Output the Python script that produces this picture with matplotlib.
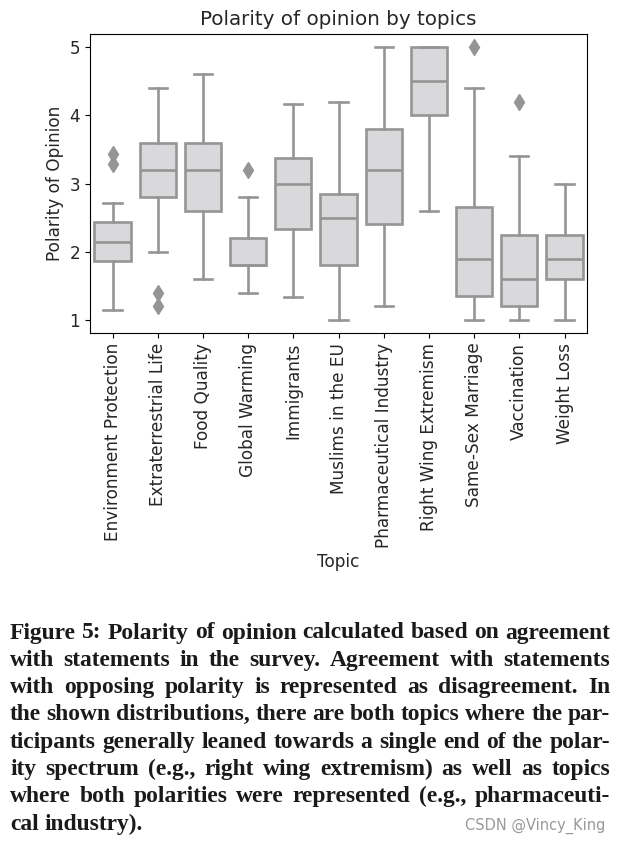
import numpy as np
import matplotlib
matplotlib.use("Agg")
import matplotlib.pyplot as plt

# topics and box statistics
topics = ["Environment Protection", "Extraterrestrial Life", "Food Quality",
          "Global Warming", "Immigrants", "Muslims in the EU",
          "Pharmaceutical Industry", "Right Wing Extremism",
          "Same-Sex Marriage", "Vaccination", "Weight Loss"]
whisker_low = [1.14, 2.0, 1.6, 1.4, 1.33, 1.0, 1.2, 2.6, 1.0, 1.0, 1.0]
q1 = [1.86, 2.8, 2.6, 1.8, 2.33, 1.8, 2.4, 4.0, 1.35, 1.2, 1.6]
medians = [2.14, 3.2, 3.2, 1.8, 3.0, 2.5, 3.2, 4.5, 1.9, 1.6, 1.9]
q3 = [2.43, 3.6, 3.6, 2.2, 3.38, 2.85, 3.8, 5.0, 2.65, 2.25, 2.25]
whisker_high = [2.71, 4.4, 4.6, 2.8, 4.17, 4.2, 5.0, 5.0, 4.4, 3.4, 3.0]
outliers = [[3.29, 3.43], [1.2, 1.4], [], [3.2], [], [], [], [], [5.0], [4.2], []]

caption_lines = [
    "Figure 5: Polarity of opinion calculated based on agreement",
    "with statements in the survey. Agreement with statements",
    "with opposing polarity is represented as disagreement. In",
    "the shown distributions, there are both topics where the par-",
    "ticipants generally leaned towards a single end of the polar-",
    "ity spectrum (e.g., right wing extremism) as well as topics",
    "where both polarities were represented (e.g., pharmaceuti-",
    "cal industry).",
]

line_col = "#959595"
fill_col = "#d9d9db"
text_col = "#262626"

fig = plt.figure(figsize=(6.2, 8.43), dpi=100)
ax = fig.add_axes([0.145, 0.605, 0.802, 0.355])

stats = []
for i in range(len(topics)):
    stats.append(dict(med=medians[i], q1=q1[i], q3=q3[i],
                      whislo=whisker_low[i], whishi=whisker_high[i],
                      fliers=outliers[i], label=topics[i]))

ax.bxp(stats, positions=range(len(topics)), widths=0.8, patch_artist=True,
       boxprops=dict(facecolor=fill_col, edgecolor=line_col, linewidth=1.9),
       medianprops=dict(color=line_col, linewidth=1.9),
       whiskerprops=dict(color=line_col, linewidth=1.9),
       capprops=dict(color=line_col, linewidth=1.9),
       capwidths=0.4,
       flierprops=dict(marker="d", markerfacecolor=line_col, markeredgecolor=line_col,
                       markersize=8))

ax.set_xlim(-0.5, len(topics) - 0.5)
ax.set_ylim(0.81, 5.195)
ax.set_yticks([1, 2, 3, 4, 5])
ax.set_xticks(range(len(topics)))
ax.set_xticklabels(topics, rotation=90, fontsize=12.2, color=text_col)
ax.tick_params(axis="y", labelsize=12.2, labelcolor=text_col)
ax.set_title("Polarity of opinion by topics", fontsize=14.3, color=text_col)
ax.set_xlabel("Topic", fontsize=12.2, color=text_col)
ax.set_ylabel("Polarity of Opinion", fontsize=12.2, color=text_col)

# justified caption below the chart
renderer = fig.canvas.get_renderer()
W, H = 620, 843
left_px, right_px = 10, 610
probe = fig.text(0, 0, caption_lines[0], fontsize=14, fontweight="bold",
                 family="Liberation Serif")
cap_size = 14 * (right_px - left_px) / probe.get_window_extent(renderer).width
probe.remove()

y_px = 633
for n, line in enumerate(caption_lines):
    words = line.split(" ")
    texts = [fig.text(0, 1 - y_px / H, w, fontsize=cap_size, fontweight="bold",
                      family="Liberation Serif", color="#1a1a1a", va="center")
             for w in words]
    widths = [t.get_window_extent(renderer).width for t in texts]
    last = n == len(caption_lines) - 1
    gap = cap_size * 0.35 if last else (right_px - left_px - sum(widths)) / (len(words) - 1)
    x = left_px
    for t, w in zip(texts, widths):
        t.set_x(x / W)
        x += w + gap
    y_px += 27.3

fig.text(605 / W, 1 - 826 / H, "CSDN @Vincy_King", fontsize=10.5, color="#999999",
         ha="right", va="center")

fig.savefig("out.png", dpi=100)
